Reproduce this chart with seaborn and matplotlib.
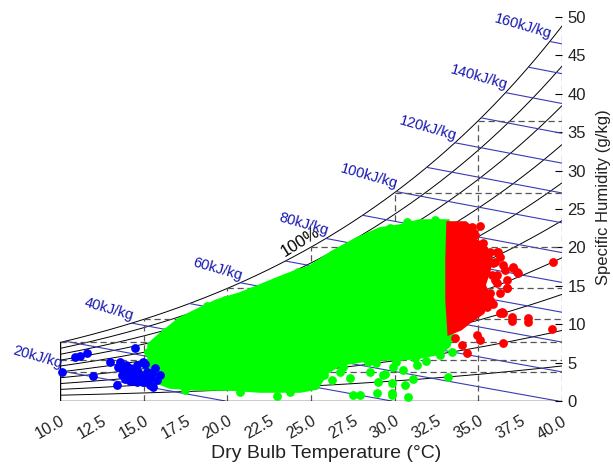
import numpy as np
import pandas as pd
import seaborn as sns
import matplotlib.pyplot as plt

# ticks and chart grid levels
t_ticks = [10.0, 12.5, 15.0, 17.5, 20.0, 22.5, 25.0, 27.5, 30.0, 32.5, 35.0, 37.5, 40.0]
w_ticks = [0, 5, 10, 15, 20, 25, 30, 35, 40, 45, 50]
rh_levels = [0.1, 0.2, 0.3, 0.4, 0.5, 0.6, 0.7, 0.8, 0.9, 1.0]
h_levels = [20, 30, 40, 50, 60, 70, 80, 90, 100, 110, 120, 130, 140, 150, 160]
h_labeled = [20, 40, 60, 80, 100, 120, 140, 160]
dash_temps = [0, 5, 10, 15, 20, 25, 30, 35]

# dense green cloud, outline (dry bulb degC, humidity g/kg)
green_core_t = [15.38, 15.98, 17.17, 18.37, 19.38, 20.76, 21.95, 23.57, 24.94, 26.32,
                27.75, 29.13, 30.32, 31.52, 33.13, 33.25, 33.31, 33.43, 33.19, 32.71,
                31.52, 30.32, 29.13, 27.93, 26.74, 25.90, 25.30, 24.35, 21.95, 20.16,
                18.37, 16.58, 15.68, 15.38]
green_core_w = [7.29, 8.46, 10.55, 11.85, 12.89, 13.80, 14.84, 16.28, 17.32, 19.27,
                20.96, 22.27, 22.66, 23.31, 23.31, 18.36, 13.15, 9.24, 7.29, 6.38,
                5.86, 5.60, 5.60, 5.34, 4.95, 3.80, 1.80, 1.43, 1.43, 1.69,
                1.69, 1.95, 2.73, 4.69]
# green points around and outside the dense part
green_t = [22.97, 26.26, 27.33, 26.74, 28.53, 29.43, 29.01, 29.84, 27.51, 27.93,
           28.95, 29.84, 28.41, 29.90, 32.89, 33.43, 32.71, 31.22, 31.34, 30.50,
           33.19, 31.10, 30.62, 29.84, 30.80, 29.31, 30.74, 25.80, 26.90, 32.20,
           16.28, 17.77, 18.79, 19.86, 21.36, 22.85, 24.23, 25.66, 27.04, 28.41,
           29.73, 32.41, 15.26, 15.20, 17.47, 20.76, 23.75, 31.90, 30.10, 28.90]
green_w = [0.65, 2.73, 2.99, 3.78, 3.78, 3.52, 2.47, 2.34, 0.78, 0.78,
           1.04, 1.04, 5.08, 4.43, 7.68, 6.38, 5.99, 5.60, 4.69, 4.04,
           3.13, 2.86, 2.08, 0.78, 0.52, 3.39, 23.31, 3.40, 4.40, 6.90,
           8.98, 10.81, 12.37, 13.15, 14.19, 15.49, 16.80, 18.10, 19.92, 21.48,
           22.53, 23.57, 6.38, 3.78, 1.43, 1.17, 1.17, 5.20, 5.10, 4.90]

blue_t = [14.48, 11.61, 11.20, 10.90, 10.12, 11.97, 12.99, 13.59, 13.47, 13.77,
          14.18, 14.60, 14.96, 14.06, 13.71, 14.78, 15.20, 15.68, 15.38, 14.60,
          14.96, 15.80, 13.41, 15.56, 14.66, 14.36, 15.98, 13.94, 15.08, 15.38,
          14.36, 15.50, 14.20, 13.90, 15.10]
blue_w = [6.90, 6.25, 5.86, 5.73, 3.78, 3.26, 5.08, 5.08, 4.43, 4.04,
          4.30, 4.69, 5.08, 3.39, 3.39, 3.39, 3.78, 4.30, 2.99, 2.47,
          2.47, 2.73, 2.08, 1.82, 3.78, 2.99, 3.39, 4.69, 2.99, 2.08,
          3.78, 3.60, 2.60, 2.90, 4.80]

# dense red cloud, outline
red_core_t = [33.25, 34.21, 34.81, 34.63, 35.22, 35.70, 35.58, 35.28, 35.58, 35.22,
              34.51, 33.91, 33.31, 33.19, 33.19]
red_core_w = [23.05, 23.05, 22.01, 20.96, 20.31, 19.01, 17.06, 15.10, 13.41, 11.59,
              10.55, 9.51, 8.98, 13.15, 18.36]
red_t = [35.10, 34.63, 36.12, 36.30, 35.88, 36.48, 37.08, 37.32, 39.47, 36.12,
         36.72, 35.70, 36.30, 36.48, 37.02, 37.02, 37.97, 37.97, 39.41, 34.93,
         35.10, 34.03, 36.48, 34.33, 33.60, 35.90, 36.00,
         36.18, 37.08, 37.38, 36.72, 36.72, 36.30, 35.70, 35.52, 36.42, 35.70,
         35.28, 34.81, 36.00, 36.60, 36.12, 35.82]
red_w = [22.79, 22.66, 19.40, 18.75, 17.97, 17.71, 17.32, 16.80, 18.10, 16.41,
         14.71, 14.06, 11.46, 11.46, 10.94, 10.42, 10.81, 10.29, 9.38, 8.59,
         7.94, 7.29, 7.55, 6.25, 8.20, 12.60, 15.80,
         19.40, 17.45, 16.67, 15.76, 14.71, 14.06, 13.15, 12.24, 11.59, 19.40,
         20.57, 21.61, 18.10, 17.06, 15.36, 16.41]

P_ATM = 101.325


def p_sat(t):
    return 0.61094 * np.exp(17.625 * t / (t + 243.04))


def w_rh(t, rh):
    p = rh * p_sat(t)
    return 622.0 * p / (P_ATM - p)


def w_h(t, h):
    return 1000.0 * (h - 1.006 * t) / (2501.0 + 1.86 * t)


sns.set_style("white")
plt.rcParams['font.family'] = ['Liberation Sans', 'DejaVu Sans']

fig = plt.figure(figsize=(6.13, 4.66), dpi=100)
ax = fig.add_axes([60 / 613, 1 - 401 / 466, 502 / 613, 384 / 466])

tt = np.linspace(10, 40, 301)
for rh in rh_levels:
    ax.plot(tt, w_rh(tt, rh), color='black', lw=0.7, zorder=1)

# enthalpy lines
h_sat = 1.006 * tt + w_rh(tt, 1.0) / 1000 * (2501 + 1.86 * tt)
blue_txt = '#1515b0'
for h in h_levels:
    t0 = 10.0 if h < h_sat[0] else float(np.interp(h, h_sat, tt))
    t1 = min(40.0, h / 1.006)
    ts = np.linspace(t0, t1, 30)
    ax.plot(ts, w_h(ts, h), color='#3a3ab5', lw=0.8, zorder=1)
    if h in h_labeled:
        ax.text(t0, w_h(t0, h), f'{h}kJ/kg', color=blue_txt, fontsize=10.5,
                rotation=-16, rotation_mode='anchor', ha='right', va='bottom')

# dashed construction lines
dash = dict(color='#555555', lw=0.9, ls=(0, (5, 3)), zorder=1)
for t0 in dash_temps:
    ws = w_rh(t0, 1.0)
    ax.plot([max(t0, 10), 40], [ws, ws], **dash)
    if t0 > 10:
        ax.plot([t0, t0], [0, ws], **dash)
ax.plot([40, 40], [0, 50], **dash)

# chart borders
ax.plot([10, 40], [0, 0], color='black', lw=1.0, zorder=1)
ax.plot([10, 10], [0, w_rh(10, 1.0)], color='black', lw=1.0, zorder=1)

ax.text(24.6, 19.9, '100%', fontsize=12, rotation=32, rotation_mode='anchor',
        ha='center', va='bottom', color='black', zorder=5)

# data
ax.fill(green_core_t, green_core_w, color='#00ff00', lw=4, zorder=2)
sns.scatterplot(x=green_t, y=green_w, color='#00ff00', s=40, linewidth=0,
                ax=ax, zorder=3, clip_on=False)
sns.scatterplot(x=blue_t, y=blue_w, color='#0000ff', s=40, linewidth=0,
                ax=ax, zorder=4, clip_on=False)
ax.fill(red_core_t, red_core_w, color='#ff0000', lw=4, zorder=4)
sns.scatterplot(x=red_t, y=red_w, color='#ff0000', s=40, linewidth=0,
                ax=ax, zorder=4, clip_on=False)

ax.set_xlim(10, 40)
ax.set_ylim(0, 50)
for sp in ax.spines.values():
    sp.set_visible(False)

ax.set_xticks(t_ticks)
ax.set_xticklabels([f'{t:.1f}' for t in t_ticks], rotation=30, ha='right',
                   rotation_mode='anchor', fontsize=11.5)
ax.set_yticks(w_ticks)
ax.set_yticklabels([str(w) for w in w_ticks], fontsize=12)
ax.yaxis.tick_right()
ax.yaxis.set_label_position('right')
ax.tick_params(axis='x', direction='in', length=5, width=0.8, pad=9, colors='black')
ax.tick_params(axis='y', direction='in', length=5, width=0.8, pad=4, colors='black')
ax.tick_params(axis='both', labelcolor='#222222')

ax.set_xlabel('Dry Bulb Temperature (°C)', fontsize=14, color='#222222')
ax.xaxis.set_label_coords(0.53, -0.115)
ax.set_ylabel('Specific Humidity (g/kg)', fontsize=12, color='#222222')
ax.yaxis.set_label_coords(1.068, 0.531)

fig.savefig('out.png', dpi=100)
